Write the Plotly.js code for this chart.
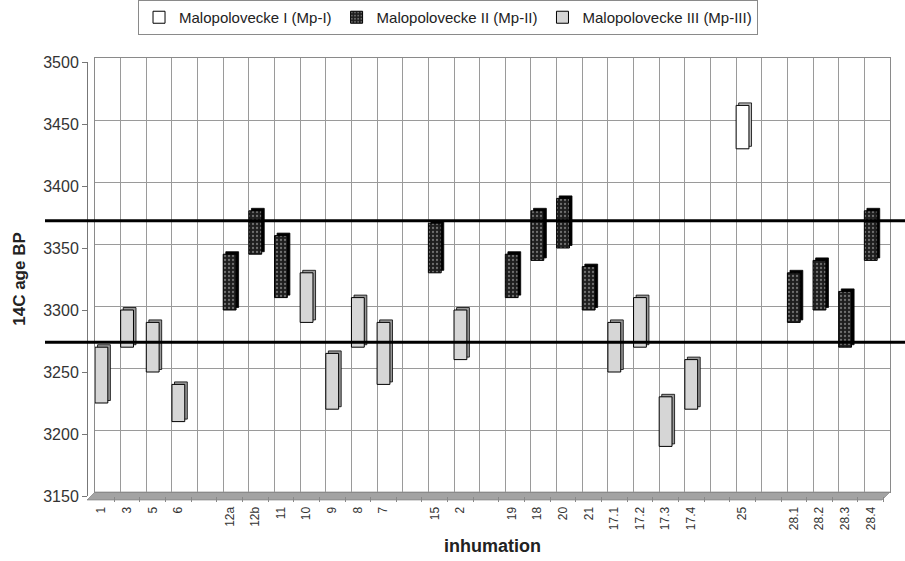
<!DOCTYPE html>
<html>
<head>
<meta charset="utf-8">
<script src="https://cdn.plot.ly/plotly-3.0.1.min.js"></script>
<style>html,body{margin:0;padding:0;background:#fff;}#chart{width:905px;height:561px;}</style>
</head>
<body>
<div id="chart"></div>
<script>
// ---- data ----
const categories = ["1","3","5","6","","12a","12b","11","10","9","8","7","","15","2","","19","18","20","21","17.1","17.2","17.3","17.4","","25","","28.1","28.2","28.3","28.4"];

const mp1Labels = ["25"];
const mp1Low    = [3430];
const mp1High   = [3465];

const mp2Labels = ["12a","12b","11","15","19","18","20","21","28.1","28.2","28.3","28.4"];
const mp2Low    = [3300,3345,3310,3330,3310,3340,3350,3300,3290,3300,3270,3340];
const mp2High   = [3345,3380,3360,3370,3345,3380,3390,3335,3330,3340,3315,3380];

const mp3Labels = ["1","3","5","6","10","9","8","7","2","17.1","17.2","17.3","17.4"];
const mp3Low    = [3225,3270,3250,3210,3290,3220,3270,3240,3260,3250,3270,3190,3220];
const mp3High   = [3270,3300,3290,3240,3330,3265,3310,3290,3300,3290,3310,3230,3260];

const seriesNames = ["Malopolovecke I (Mp-I)","Malopolovecke II (Mp-II)","Malopolovecke III (Mp-III)"];
const yTicks = [3150,3200,3250,3300,3350,3400,3450,3500];
const refLines = [3372, 3274];

// ---- helpers ----
const pos = labs => labs.map(l => categories.indexOf(l));
const diff = (hi, lo) => hi.map((h, i) => h - lo[i]);
const tickIdx = categories.map((c, i) => i);

function sideTrace(labs, lo, hi, color) {
  return {
    type: 'bar', x: pos(labs), base: lo.map(v => v + 2), y: diff(hi, lo),
    width: 0.5, offset: -0.15, xaxis: 'x2', yaxis: 'y2',
    marker: { color: color, line: { color: '#000', width: 0.8 } },
    showlegend: false, hoverinfo: 'skip'
  };
}
function frontTrace(name, labs, lo, hi, marker) {
  return {
    type: 'bar', name: name, x: pos(labs), base: lo, y: diff(hi, lo),
    width: 0.5, offset: -0.25, xaxis: 'x2', yaxis: 'y2',
    marker: marker, hoverinfo: 'skip'
  };
}

const traces = [
  { type: 'scatter', x: [], y: [], xaxis: 'x', yaxis: 'y', showlegend: false, hoverinfo: 'skip' },
  sideTrace(mp1Labels, mp1Low, mp1High, '#bdbdbd'),
  sideTrace(mp2Labels, mp2Low, mp2High, '#000000'),
  sideTrace(mp3Labels, mp3Low, mp3High, '#9a9a9a'),
  frontTrace(seriesNames[0], mp1Labels, mp1Low, mp1High,
    { color: '#ffffff', line: { color: '#000', width: 1 } }),
  frontTrace(seriesNames[1], mp2Labels, mp2Low, mp2High,
    { color: '#222222', line: { color: '#000', width: 1 },
      pattern: { shape: '.', bgcolor: '#1e1e1e', fgcolor: '#707070', size: 4, solidity: 0.25 } }),
  frontTrace(seriesNames[2], mp3Labels, mp3Low, mp3High,
    { color: '#d6d6d6', line: { color: '#000', width: 1 } })
];

const W = 803, H = 438;
const shapes = [
  { type: 'path', xref: 'paper', yref: 'paper', layer: 'below',
    path: `M ${8/W},${4/H} L 1,${4/H} L ${1-8/W},${-4/H} L 0,${-4/H} Z`,
    fillcolor: '#a3a3a3', line: { color: '#777', width: 0.6 } }
].concat(refLines.map(v => ({
  type: 'line', xref: 'paper', yref: 'y2', x0: -42/W, x1: 818/W, y0: v, y1: v,
  line: { color: '#000', width: 3 }, layer: 'above'
})));

const layout = {
  width: 905, height: 561,
  margin: { l: 87, r: 15, t: 58, b: 65, autoexpand: false },
  paper_bgcolor: '#ffffff', plot_bgcolor: 'rgba(0,0,0,0)',
  barmode: 'overlay',
  font: { family: 'Liberation Sans, Arial, sans-serif', color: '#222' },
  showlegend: true,
  legend: {
    orientation: 'h', x: 0.4496, xanchor: 'center', y: 1.0925, yanchor: 'middle',
    bordercolor: '#8a8a8a', borderwidth: 1, bgcolor: '#ffffff',
    font: { size: 15, color: '#222' }, traceorder: 'normal', itemwidth: 30
  },
  xaxis: {
    domain: [8/W, 1], range: [-0.5, 30.5], anchor: 'y',
    tickmode: 'linear', tick0: -0.5, dtick: 1, showticklabels: false, ticks: '',
    showgrid: true, gridcolor: '#9a9a9a', gridwidth: 1, zeroline: false,
    showline: true, mirror: true, linecolor: '#8a8a8a', linewidth: 1
  },
  yaxis: {
    domain: [4/H, 1], range: [3150, 3500], anchor: 'x',
    tickmode: 'array', tickvals: yTicks, showticklabels: false, ticks: '',
    showgrid: true, gridcolor: '#9a9a9a', gridwidth: 1, zeroline: false,
    showline: true, mirror: true, linecolor: '#8a8a8a', linewidth: 1
  },
  xaxis2: {
    domain: [8/W, 1], range: [-0.25, 30.75], anchor: 'y2',
    tickmode: 'array', tickvals: tickIdx, ticktext: categories, tickangle: -90,
    tickfont: { size: 12, color: '#333' }, ticks: 'outside', ticklen: 5, tickcolor: 'rgba(0,0,0,0)',
    minor: { tickmode: 'linear', tick0: -0.5, dtick: 1, ticks: 'outside', ticklen: 5, tickcolor: '#888' },
    showgrid: false, zeroline: false, showline: false,
    title: { text: 'inhumation', font: { size: 18, color: '#222', weight: 'bold' }, standoff: 10 }
  },
  yaxis2: {
    domain: [0, 1 - 4/H], range: [3150, 3500], anchor: 'free', position: 0,
    tickmode: 'array', tickvals: yTicks, ticks: 'outside', ticklen: 5, tickcolor: '#777',
    tickfont: { size: 16, color: '#333' },
    showgrid: false, zeroline: false, showline: true, linecolor: '#777', linewidth: 1,
    title: { text: '14C age BP', font: { size: 17, color: '#222', weight: 'bold' }, standoff: 12 }
  },
  shapes: shapes
};

Plotly.newPlot('chart', traces, layout, { staticPlot: true, displayModeBar: false });
</script>
</body>
</html>
